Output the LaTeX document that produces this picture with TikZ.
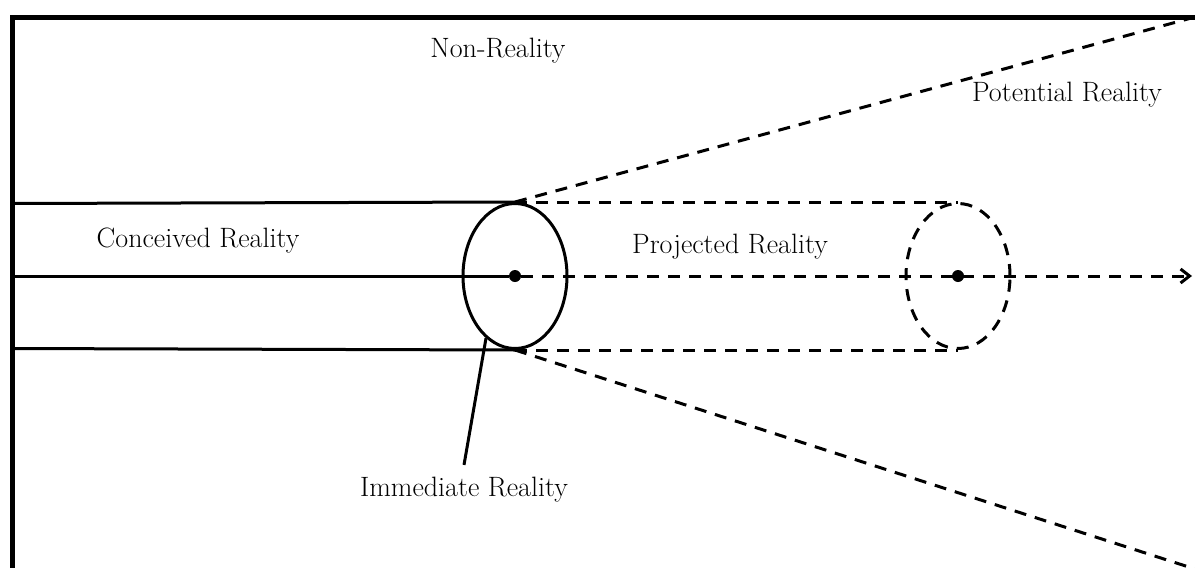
\documentclass[tikz,border=0pt]{standalone}
\usetikzlibrary{shapes.geometric, arrows.meta, positioning}
\begin{document}
\begin{tikzpicture}[x=1pt, y=-1pt, every node/.style={font=\fontsize{28}{32}\selectfont},
        realline/.style={line width=3pt},
        dashline/.style={line width=3pt, dash pattern=on 12pt off 9pt},
        oval/.style={ellipse, draw, line width=3pt, minimum width=104pt, minimum height=145pt, inner sep=0pt},
        dot/.style={circle, fill, inner sep=0pt, minimum size=12pt}]
        \useasboundingbox (0,0) rectangle (1195,568);
        \draw [line width=5pt] (12,568) -- (12,17) -- (1195,17);

        \node (imm) [oval] at (515,276) {};
        \node (now) [dot] at (imm.center) {};
        \node (proj) [oval, dash pattern=on 12pt off 9pt] at (958,276) {};
        \node (future) [dot] at (proj.center) {};

        \coordinate (pasttop) at (12,203.5);
        \coordinate (pastmid) at (12,276);
        \coordinate (pastbot) at (12,348.5);
        \coordinate (conetop) at (1195,17);
        \coordinate (conebot) at (1195,569);
        \coordinate (ahead) at (1192,276);

        \draw [realline] (pasttop) -- (imm.north);
        \draw [realline] (pastmid) -- (now);
        \draw [realline] (pastbot) -- (imm.south);

        \draw [dashline] (imm.north) -- (proj.north);
        \draw [dashline] (imm.south) -- (proj.south);
        \draw [dashline, -{Straight Barb[length=9pt, width=14pt]}] (now) -- (ahead);
        \draw [dashline] (imm.north) -- (conetop);
        \draw [dashline] (imm.south) -- (conebot);

        \node (non) at (498,51) {Non-Reality};
        \node (pot) at (1067,95) {Potential Reality};
        \node (conc) at (198,241) {Conceived Reality};
        \node (projtxt) at (730,247) {Projected Reality};
        \node (immtxt) at (464,490) {Immediate Reality};
        \draw [realline] (imm.245) -- ([yshift=9pt]immtxt.north);
    \end{tikzpicture}
\end{document}
